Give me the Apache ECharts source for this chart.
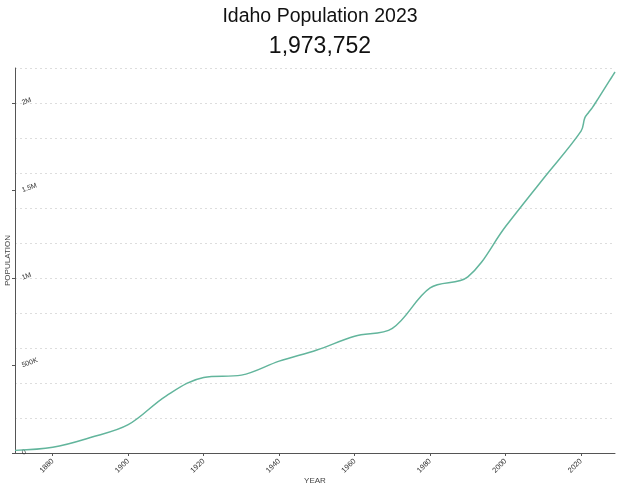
<!DOCTYPE html>
<html>
<head>
<meta charset="utf-8">
<title>Idaho Population</title>
<script src="https://cdn.jsdelivr.net/npm/echarts@6/dist/echarts.min.js"></script>
<style>
html, body { margin: 0; padding: 0; background: #fff; }
#chart { width: 640px; height: 487px; }
</style>
</head>
<body>
<div id="chart"></div>
<script>
var years = [1870, 1880, 1890, 1900, 1910, 1920, 1930, 1940, 1950, 1960, 1970, 1980, 1990, 2000, 2010, 2020,
	2021, 2022, 2023, 2024, 2025, 2026, 2027, 2028, 2029];
var population = [14999, 32610, 88548, 161772, 325594, 431866, 445032, 524873, 588637, 667191, 712567, 943935, 1006749, 1293953, 1567582, 1839106,
	1915000, 1946000, 1973752, 2007000, 2041000, 2075000, 2109000, 2143000, 2177000];
var yearTicks = [1880, 1900, 1920, 1940, 1960, 1980, 2000, 2020];
var popTicks = [0, 500000, 1000000, 1500000, 2000000];

var points = [];
for (var i = 0; i < years.length; i++) {
	points.push([years[i], population[i]]);
}

function fmtPop(v) {
	if (v == 0) return '0';
	if (v >= 1000000) return (v / 1000000) + 'M';
	return (v / 1000) + 'K';
}

var myChart = echarts.init(document.getElementById('chart'));
var option = {
	animation : false,
	textStyle : { fontFamily : 'Liberation Sans, Arial, sans-serif' },
	title : {
		text : 'Idaho Population 2023',
		subtext : '1,973,752',
		left : 'center',
		top : 2,
		itemGap : 8,
		textStyle : { fontSize : 19.5, fontWeight : 'normal', color : '#111' },
		subtextStyle : { fontSize : 23, color : '#111' }
	},
	grid : { left : 15, right : 25, top : 68, bottom : 34, outerBoundsMode : 'none', containLabel : false },
	xAxis : {
		type : 'value',
		min : 1870,
		max : 2029,
		name : 'YEAR',
		nameLocation : 'middle',
		nameGap : 24,
		nameMoveOverlap : false,
		nameTextStyle : { fontSize : 8, color : '#444' },
		axisLine : { lineStyle : { color : '#555' } },
		axisTick : { length : 3, customValues : yearTicks, lineStyle : { color : '#555' } },
		axisLabel : {
			customValues : yearTicks,
			rotate : 45,
			fontSize : 7.5,
			color : '#333',
			margin : 7,
			formatter : function(v) { return String(v); }
		},
		splitLine : { show : false }
	},
	yAxis : [ {
		type : 'value',
		min : 0,
		max : 2200000,
		name : 'POPULATION',
		nameLocation : 'middle',
		nameGap : 3,
		nameMoveOverlap : false,
		nameTextStyle : { fontSize : 8, color : '#444' },
		axisLine : { show : true, lineStyle : { color : '#555' } },
		axisTick : { show : true, length : 3, customValues : popTicks, lineStyle : { color : '#555' } },
		axisLabel : {
			customValues : popTicks,
			inside : true,
			rotate : 20,
			fontSize : 7,
			color : '#333',
			margin : 7,
			formatter : fmtPop
		},
		splitLine : { show : false }
	}, {
		type : 'value',
		min : 0,
		max : 2200000,
		interval : 200000,
		position : 'left',
		axisLine : { show : false },
		axisTick : { show : false },
		axisLabel : { show : false },
		splitLine : { show : true, lineStyle : { color : '#ddd', type : [2, 3] } }
	} ],
	series : [ {
		name : 'Population',
		type : 'line',
		data : points,
		smooth : 0.35,
		showSymbol : false,
		lineStyle : { color : '#62b59c', width : 1.5 }
	} ]
};
myChart.setOption(option);
</script>
</body>
</html>
